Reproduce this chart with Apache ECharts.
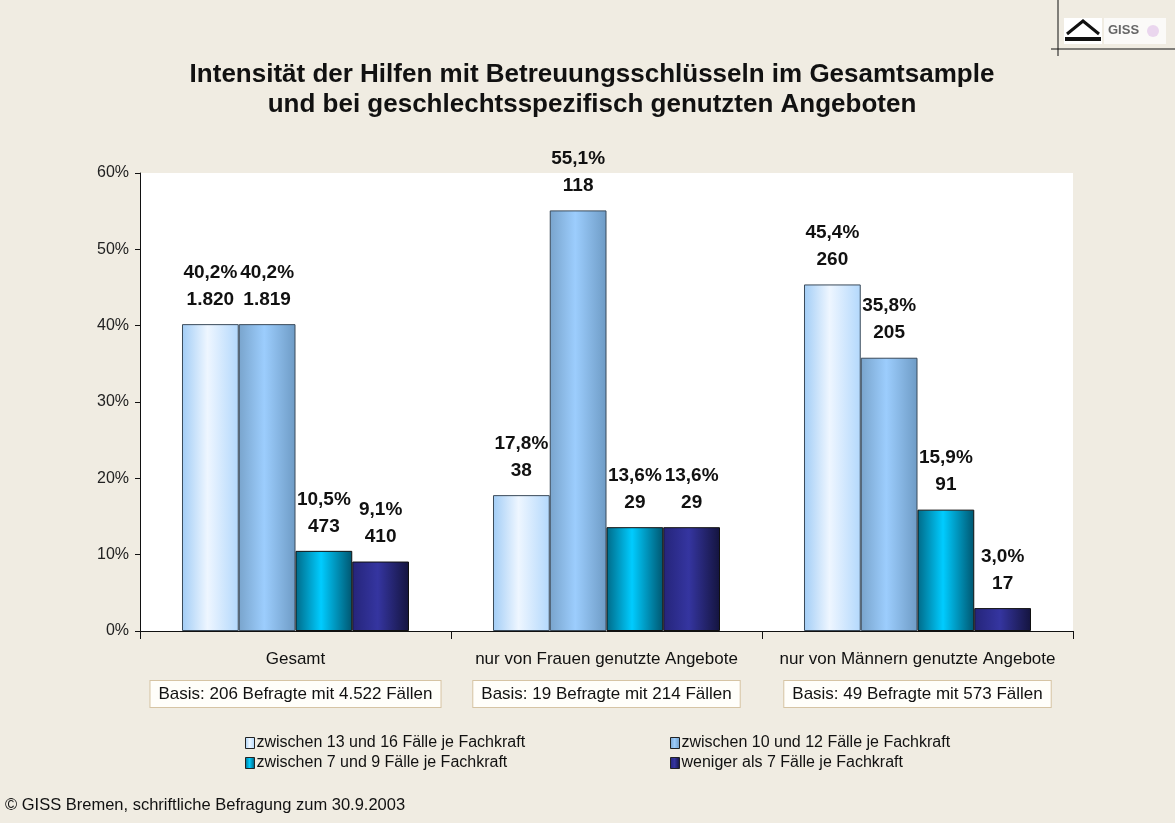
<!DOCTYPE html>
<html>
<head>
<meta charset="utf-8">
<script src="https://cdn.jsdelivr.net/npm/echarts@6/dist/echarts.min.js"></script>
<style>
  html, body { margin: 0; padding: 0; background: #f0ece2; }
  #chart { width: 1175px; height: 823px; }
</style>
</head>
<body>
<div id="chart"></div>
<script>
  // Daten
  var categories = ['Gesamt', 'nur von Frauen genutzte Angebote', 'nur von Männern genutzte Angebote']
  var basisLabels = ['Basis: 206 Befragte mit 4.522 Fällen', 'Basis: 19 Befragte mit 214 Fällen', 'Basis: 49 Befragte mit 573 Fällen']
  var seriesNames = ['zwischen 13 und 16 Fälle je Fachkraft', 'zwischen 10 und 12 Fälle je Fachkraft',
                     'zwischen 7 und 9 Fälle je Fachkraft', 'weniger als 7 Fälle je Fachkraft']
  var pct13bis16 = [40.2, 17.8, 45.4]
  var pct10bis12 = [40.2, 55.1, 35.8]
  var pct7bis9 = [10.5, 13.6, 15.9]
  var pctUnter7 = [9.1, 13.6, 3.0]
  var n13bis16 = [1820, 38, 260]
  var n10bis12 = [1819, 118, 205]
  var n7bis9 = [473, 29, 91]
  var nUnter7 = [410, 29, 17]
  var yTicks = [0, 10, 20, 30, 40, 50, 60]

  var FONT = 'Liberation Sans, Arial, sans-serif'

  function grad(a, b, c) {
    return new echarts.graphic.LinearGradient(0, 0, 1, 0, [
      {offset: 0, color: a}, {offset: 0.45, color: b}, {offset: 1, color: c}
    ])
  }
  var colors = [
    grad('#a2cdf6', '#eef6ff', '#b3d8fc'),
    grad('#79a4cc', '#9ccdfd', '#6e9bc5'),
    grad('#006a88', '#00ccff', '#005670'),
    grad('#25257a', '#3535a0', '#14143e')
  ]
  var plainColors = ['#ddeeff', '#8fbde8', '#00b8e6', '#2b2b88']

  function fmtPct(v) { return v.toFixed(1).replace('.', ',') + '%' }
  function fmtN(v) { return String(v).replace(/\B(?=(\d{3})+(?!\d))/g, '.') }

  var pctData = [pct13bis16, pct10bis12, pct7bis9, pctUnter7]
  var nData = [n13bis16, n10bis12, n7bis9, nUnter7]

  var series = seriesNames.map(function (name, i) {
    return {
      name: name,
      type: 'bar',
      barGap: '0%',
      barCategoryGap: '27%',
      data: pctData[i],
      color: plainColors[i],
      itemStyle: {color: colors[i], borderColor: i < 2 ? '#3a4a5a' : '#111', borderWidth: 1},
      label: {
        show: true,
        position: 'top',
        distance: 11,
        color: '#111',
        fontFamily: FONT,
        fontWeight: 'bold',
        fontSize: 19,
        lineHeight: 27,
        formatter: function (p) { return fmtPct(p.value) + '\n' + fmtN(nData[i][p.dataIndex]) }
      }
    }
  })

  var legendStyle = {
    orient: 'vertical',
    itemGap: 4,
    itemWidth: 9,
    itemHeight: 11,
    icon: 'rect',
    itemStyle: {borderColor: '#222', borderWidth: 1},
    textStyle: {fontSize: 16, color: '#111', fontFamily: FONT, padding: [0, 0, 0, -3]}
  }

  var myChart = echarts.init(document.getElementById('chart'))
  var option = {
    backgroundColor: '#f0ece2',
    animation: false,
    textStyle: {fontFamily: FONT},
    title: {
      text: 'Intensität der Hilfen mit Betreuungsschlüsseln im Gesamtsample\nund bei geschlechtsspezifisch genutzten Angeboten',
      left: 587,
      textAlign: 'center',
      top: 55,
      textStyle: {fontSize: 26, fontWeight: 'bold', color: '#111', lineHeight: 30, fontFamily: FONT}
    },
    legend: [
      Object.assign({data: [seriesNames[0], seriesNames[2]], left: 240, top: 730}, legendStyle),
      Object.assign({data: [seriesNames[1], seriesNames[3]], left: 665, top: 730}, legendStyle)
    ],
    grid: {
      left: 140, right: 102, top: 173, bottom: 192,
      show: true, backgroundColor: '#ffffff', borderWidth: 0
    },
    xAxis: [{
      type: 'category',
      data: categories,
      axisLine: {lineStyle: {color: '#111', width: 1}},
      axisTick: {show: true, length: 8, lineStyle: {color: '#111'}},
      axisLabel: {fontSize: 17, color: '#111', margin: 20, interval: 0}
    }, {
      type: 'category',
      data: basisLabels,
      position: 'bottom',
      offset: 50,
      axisLine: {show: false},
      axisTick: {show: false},
      axisLabel: {
        fontSize: 17, color: '#111', margin: 0, interval: 0,
        backgroundColor: '#fffefa', borderColor: '#d6c4a4', borderWidth: 1,
        padding: [5, 8, 4, 8]
      }
    }],
    yAxis: {
      type: 'value',
      min: yTicks[0],
      max: yTicks[yTicks.length - 1],
      interval: 10,
      splitLine: {show: false},
      axisLine: {show: true, lineStyle: {color: '#111', width: 1}},
      axisTick: {show: true, length: 5, lineStyle: {color: '#111'}},
      axisLabel: {fontSize: 16, color: '#222', margin: 11, formatter: '{value}%'}
    },
    graphic: [
      {type: 'line', shape: {x1: 1058, y1: 0, x2: 1058, y2: 56}, style: {stroke: '#111', lineWidth: 1}},
      {type: 'line', shape: {x1: 1051, y1: 49, x2: 1175, y2: 49}, style: {stroke: '#111', lineWidth: 1}},
      {type: 'rect', shape: {x: 1064, y: 18, width: 38, height: 26}, style: {fill: '#ffffff'}},
      {type: 'polyline', shape: {points: [[1067, 34], [1083, 21], [1099, 34]]}, style: {stroke: '#111', lineWidth: 3, fill: 'none'}},
      {type: 'rect', shape: {x: 1065, y: 37, width: 36, height: 4}, style: {fill: '#111'}},
      {type: 'rect', shape: {x: 1104, y: 18, width: 62, height: 26}, style: {fill: '#fbfaf8'}},
      {type: 'text', left: 1108, top: 24, style: {text: 'GISS', font: 'bold 13px Liberation Sans, Arial, sans-serif', fill: '#666'}},
      {type: 'circle', shape: {cx: 1153, cy: 31, r: 6}, style: {fill: '#ead6ee'}},
      {type: 'text', left: 5, top: 797, style: {text: '© GISS Bremen, schriftliche Befragung zum 30.9.2003', font: '16.5px Liberation Sans, Arial, sans-serif', fill: '#111'}}
    ],
    series: series
  }
  myChart.setOption(option)
  window.addEventListener('resize', function () {
    myChart.resize()
  })
</script>
</body>
</html>
